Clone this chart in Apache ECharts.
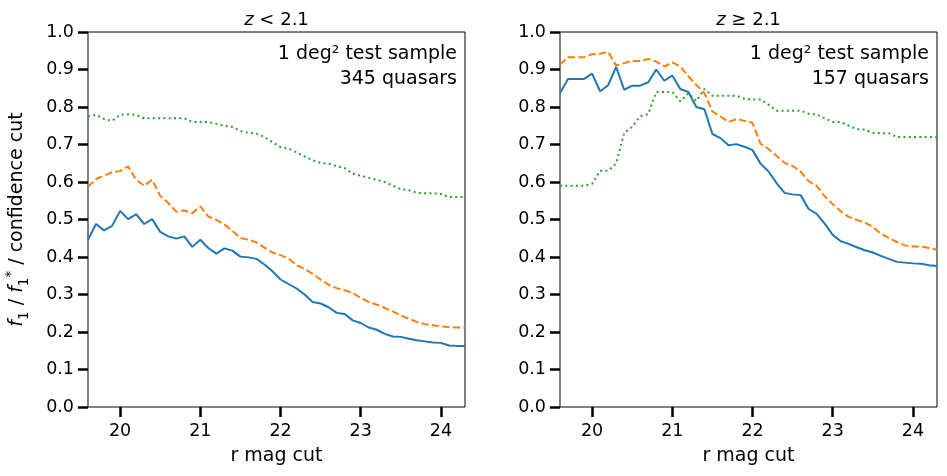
<!DOCTYPE html>
<html>
<head>
<meta charset="utf-8">
<script src="https://cdn.jsdelivr.net/npm/echarts@6/dist/echarts.min.js"></script>
<style>
html,body{margin:0;padding:0;background:#fff;}
#chart{width:947px;height:476px;}
</style>
</head>
<body>
<div id="chart"></div>
<script>
// r magnitude cut values (x)
const rmag = [19.6,19.7,19.8,19.9,20.0,20.1,20.2,20.3,20.4,20.5,
              20.6,20.7,20.8,20.9,21.0,21.1,21.2,21.3,21.4,21.5,
              21.6,21.7,21.8,21.9,22.0,22.1,22.2,22.3,22.4,22.5,
              22.6,22.7,22.8,22.9,23.0,23.1,23.2,23.3,23.4,23.5,
              23.6,23.7,23.8,23.9,24.0,24.1,24.2,24.3];
const xTicks = [20,21,22,23,24];

// Left panel: z < 2.1
const lowF1 = [0.446,0.488,0.471,0.483,0.523,0.501,0.514,0.488,0.501,0.467,
               0.455,0.449,0.455,0.427,0.446,0.424,0.409,0.423,0.417,0.401,
               0.399,0.395,0.380,0.362,0.340,0.328,0.316,0.300,0.280,0.276,
               0.266,0.251,0.248,0.231,0.224,0.212,0.206,0.195,0.188,0.187,
               0.182,0.178,0.175,0.172,0.171,0.164,0.163,0.163];
const lowF1star = [0.587,0.608,0.617,0.626,0.629,0.642,0.606,0.590,0.606,0.563,
                   0.544,0.521,0.524,0.517,0.535,0.508,0.499,0.487,0.470,0.451,
                   0.446,0.439,0.425,0.412,0.405,0.396,0.378,0.368,0.355,0.340,
                   0.326,0.317,0.311,0.304,0.291,0.280,0.273,0.264,0.255,0.244,
                   0.235,0.227,0.221,0.218,0.215,0.213,0.212,0.212];
const lowConf = [0.775,0.779,0.768,0.763,0.779,0.781,0.779,0.770,0.770,0.770,
                 0.770,0.770,0.770,0.760,0.760,0.760,0.755,0.750,0.747,0.736,
                 0.731,0.729,0.720,0.706,0.693,0.689,0.679,0.668,0.658,0.651,
                 0.649,0.642,0.637,0.622,0.617,0.611,0.606,0.600,0.590,0.581,
                 0.578,0.571,0.570,0.570,0.568,0.560,0.560,0.560];

// Right panel: z >= 2.1
const highF1 = [0.837,0.875,0.875,0.875,0.889,0.842,0.858,0.907,0.846,0.857,
                0.857,0.866,0.900,0.870,0.884,0.848,0.840,0.800,0.794,0.728,
                0.717,0.698,0.701,0.694,0.685,0.649,0.628,0.597,0.571,0.567,
                0.565,0.528,0.515,0.489,0.459,0.442,0.435,0.426,0.418,0.412,
                0.403,0.395,0.387,0.385,0.383,0.382,0.378,0.376];
const highF1star = [0.913,0.933,0.933,0.933,0.941,0.942,0.947,0.911,0.917,0.923,
                    0.923,0.928,0.921,0.908,0.919,0.908,0.882,0.859,0.837,0.788,
                    0.775,0.760,0.768,0.763,0.758,0.702,0.688,0.670,0.651,0.643,
                    0.628,0.602,0.590,0.562,0.541,0.522,0.507,0.499,0.492,0.480,
                    0.462,0.451,0.440,0.431,0.428,0.428,0.424,0.419];
const highConf = [0.590,0.590,0.590,0.590,0.595,0.630,0.630,0.649,0.731,0.747,
                  0.775,0.781,0.840,0.840,0.840,0.815,0.836,0.816,0.848,0.830,
                  0.830,0.830,0.830,0.822,0.820,0.820,0.806,0.790,0.790,0.790,
                  0.790,0.782,0.780,0.770,0.760,0.760,0.750,0.741,0.740,0.731,
                  0.730,0.730,0.720,0.720,0.720,0.720,0.720,0.720];

const panelTitles = ['z', 'z'];
const panelOps = [' < 2.1', ' \u2265 2.1'];
const annotLine1 = '1 deg\u00B2 test sample';
const annotLine2 = ['345 quasars', '157 quasars'];

const FONT = 'DejaVu Sans';
const C_BLUE = '#1f77b4', C_ORANGE = '#ff7f0e', C_GREEN = '#2ca02c';
const TICK_FS = 17.5, NAME_FS = 19, ANNOT_FS = 19, TITLE_FS = 18;

const grids = [
  {left: 88, top: 32, width: 377, height: 375},
  {left: 560, top: 32, width: 377, height: 375}
];

function xAxisFor(i) {
  return {
    type: 'value', gridIndex: i, min: 19.6, max: 24.3,
    name: 'r mag cut', nameLocation: 'middle', nameGap: 40,
    nameTextStyle: {fontFamily: FONT, fontSize: NAME_FS, color: '#000'},
    axisLine: {show: false},
    splitLine: {show: false},
    axisTick: {show: true, customValues: xTicks, length: 10, lineStyle: {color: '#000', width: 2.5}},
    axisLabel: {customValues: xTicks, fontFamily: FONT, fontSize: TICK_FS, color: '#000', margin: 15,
                formatter: v => String(Math.round(v))}
  };
}
function yAxisFor(i) {
  const ax = {
    type: 'value', gridIndex: i, min: 0, max: 1, interval: 0.1,
    axisLine: {show: false},
    splitLine: {show: false},
    axisTick: {show: true, length: 10, lineStyle: {color: '#000', width: 2.5}},
    axisLabel: {fontFamily: FONT, fontSize: TICK_FS, color: '#000', margin: 14,
                formatter: v => v.toFixed(1)}
  };
  if (i === 0) {
    ax.name = '{i|f}{s|1} / {i|f}{s|1}{p|*} / confidence cut';
    ax.nameLocation = 'middle';
    ax.nameGap = 57;
    ax.nameRotate = 90;
    ax.nameTextStyle = {
      fontFamily: FONT, fontSize: NAME_FS, color: '#000',
      rich: {
        i: {fontFamily: FONT, fontSize: NAME_FS, fontStyle: 'italic', color: '#000', lineHeight: 27},
        s: {fontFamily: FONT, fontSize: 13.5, color: '#000', verticalAlign: 'bottom', lineHeight: 14},
        p: {fontFamily: FONT, fontSize: 13.5, color: '#000', verticalAlign: 'top', lineHeight: 14}
      }
    };
  }
  return ax;
}

function lineSeries(gi, vals, color, type) {
  return {
    type: 'line', xAxisIndex: gi, yAxisIndex: gi,
    data: rmag.map((r, k) => [r, vals[k]]),
    showSymbol: false, symbol: 'none', silent: true, animation: false,
    lineStyle: {color: color, width: 2, type: type, cap: 'butt'},
    clip: true
  };
}

const panelCenters = [88 + 377 / 2, 560 + 377 / 2];
const annotRight = [457, 929];

const graphics = [];
for (let i = 0; i < 2; i++) {
  graphics.push({
    type: 'text', x: panelCenters[i], y: 20, silent: true,
    style: {
      text: '{i|' + panelTitles[i] + '}{n|' + panelOps[i] + '}',
      align: 'center', verticalAlign: 'middle',
      fill: '#000', font: TITLE_FS + 'px "' + FONT + '"',
      rich: {
        i: {fontFamily: FONT, fontSize: TITLE_FS, fontStyle: 'italic', fill: '#000'},
        n: {fontFamily: FONT, fontSize: TITLE_FS, fill: '#000'}
      }
    }
  });
  graphics.push({
    type: 'text', x: annotRight[i], y: 54, silent: true,
    style: {text: annotLine1, align: 'right', verticalAlign: 'middle',
            fill: '#000', font: ANNOT_FS + 'px "' + FONT + '"'}
  });
  graphics.push({
    type: 'text', x: annotRight[i], y: 79, silent: true,
    style: {text: annotLine2[i], align: 'right', verticalAlign: 'middle',
            fill: '#000', font: ANNOT_FS + 'px "' + FONT + '"'}
  });
}

const chart = echarts.init(document.getElementById('chart'), null, {renderer: 'canvas'});
chart.setOption({
  animation: false,
  backgroundColor: '#fff',
  grid: grids.map(g => Object.assign({show: true, borderColor: '#000', borderWidth: 1, backgroundColor: 'transparent'}, g)),
  xAxis: [xAxisFor(0), xAxisFor(1)],
  yAxis: [yAxisFor(0), yAxisFor(1)],
  series: [
    lineSeries(0, lowF1, C_BLUE, 'solid'),
    lineSeries(0, lowF1star, C_ORANGE, [7.4, 3.2]),
    lineSeries(0, lowConf, C_GREEN, [2, 3.3]),
    lineSeries(1, highF1, C_BLUE, 'solid'),
    lineSeries(1, highF1star, C_ORANGE, [7.4, 3.2]),
    lineSeries(1, highConf, C_GREEN, [2, 3.3])
  ],
  graphic: graphics
});
</script>
</body>
</html>
